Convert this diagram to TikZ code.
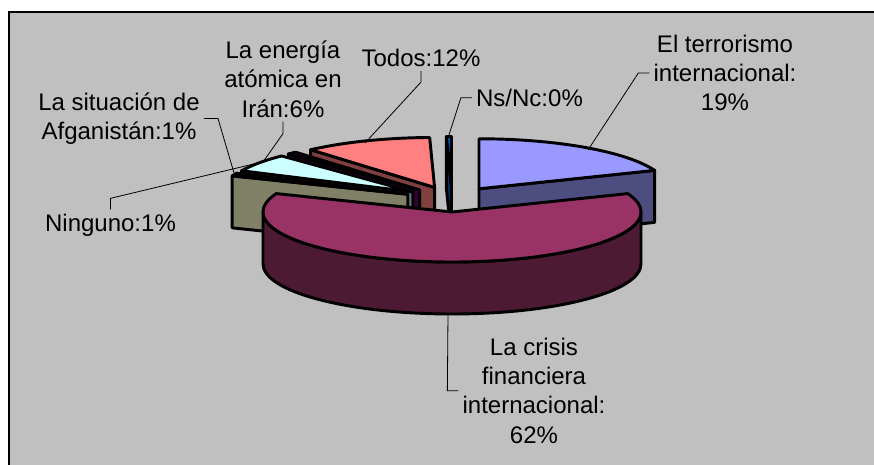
\documentclass[tikz,border=0pt]{standalone}
\usepackage{fontspec}
\setmainfont{Liberation Sans}
\usepackage{xcolor}
\usetikzlibrary{calc}

\definecolor{fondo}{HTML}{C0C0C0}
\definecolor{terArriba}{HTML}{9999FF}
\definecolor{terLado}{HTML}{4D4D80}
\definecolor{criArriba}{HTML}{993366}
\definecolor{criLado}{HTML}{4D1A33}
\definecolor{ninArriba}{HTML}{FFFFCC}
\definecolor{ninLado}{HTML}{808066}
\definecolor{iraArriba}{HTML}{CCFFFF}
\definecolor{iraLado}{HTML}{668080}
\definecolor{afgArriba}{HTML}{660066}
\definecolor{afgLado}{HTML}{330033}
\definecolor{todArriba}{HTML}{FF8080}
\definecolor{todLado}{HTML}{804040}
\definecolor{nsnArriba}{HTML}{0066CC}
\definecolor{nsnLado}{HTML}{003366}

\begin{document}
\begin{tikzpicture}[x=0.75pt, y=0.75pt,
  cara/.style={draw=black, line width=2.2pt, line join=round},
  borde/.style={x radius=189, y radius=50},
  guia/.style={draw=black, line width=0.6pt},
  etiqueta/.style={align=center, inner sep=3pt, font=\fontsize{18}{22}\selectfont}]
\useasboundingbox (0,0) rectangle (874,464);
% Fondo
\filldraw[fill=fondo, draw=black, line width=1.5pt] (9,452) rectangle (890,-20);

% Centros de las porciones
\coordinate (c) at (452,264.7);
\coordinate (ter) at ($(c)+(55.8:48 and 12.7)$);
\coordinate (cri) at ($(c)+(270:48 and 12.7)$);
\coordinate (nin) at ($(c)+(156.7:48 and 12.7)$);
\coordinate (ira) at ($(c)+(144.5:48 and 12.7)$);
\coordinate (afg) at ($(c)+(132.5:48 and 12.7)$);
\coordinate (tod) at ($(c)+(111.25:48 and 12.7)$);
\coordinate (nsn) at ($(c)+(90.75:48 and 12.7)$);

% Porciones (de atras hacia adelante)
\filldraw[cara, fill=nsnLado] (nsn) -- ++(91.5:189 and 50) -- ++(0,-52) -- ($(nsn)+(0,-52)$) -- cycle;
\filldraw[cara, fill=nsnArriba] (nsn) -- ++(91.5:189 and 50) arc[borde, start angle=91.5, end angle=90] -- cycle;
\filldraw[cara, fill=todLado] (tod) -- ++(131:189 and 50) -- ++(0,-52) -- ($(tod)+(0,-52)$) -- cycle;
\filldraw[cara, fill=todArriba] (tod) -- ++(131:189 and 50) arc[borde, start angle=131, end angle=91.5] -- cycle;
\filldraw[cara, fill=afgLado] (afg) -- ++(134:189 and 50) -- ++(0,-52) -- ($(afg)+(0,-52)$) -- cycle;
\filldraw[cara, fill=afgArriba] (afg) -- ++(134:189 and 50) arc[borde, start angle=134, end angle=131] -- cycle;
\filldraw[cara, fill=iraLado] (ira) -- ++(155:189 and 50) -- ++(0,-52) -- ($(ira)+(0,-52)$) -- cycle;
\filldraw[cara, fill=iraArriba] (ira) -- ++(155:189 and 50) arc[borde, start angle=155, end angle=134] -- cycle;
\filldraw[cara, fill=ninLado] (nin) -- ++(158.4:189 and 50) -- ++(0,-52) -- ($(nin)+(0,-52)$) -- cycle;
\filldraw[cara, fill=ninArriba] (nin) -- ++(158.4:189 and 50) arc[borde, start angle=158.4, end angle=155] -- cycle;
\filldraw[cara, fill=terLado] (ter) -- ++(21.6:189 and 50) -- ++(0,-52) -- ($(ter)+(0,-52)$) -- cycle;
\filldraw[cara, fill=terArriba] (ter) -- ++(90:189 and 50) arc[borde, start angle=90, end angle=21.6] -- cycle;
\filldraw[cara, fill=criLado] ($(cri)+(180:189 and 50)$) arc[borde, start angle=180, end angle=360] -- ++(0,-52) arc[borde, start angle=360, end angle=180] -- cycle;
\filldraw[cara, fill=criArriba] (cri) -- ++(21.6:189 and 50) arc[borde, start angle=21.6, end angle=-201.6] -- cycle;

% Etiquetas
\node[etiqueta] (terlbl) at (725,391) {El terrorismo\\internacional:\\19\%};
\node[etiqueta] (crilbl) at (534,73.3) {La crisis\\financiera\\internacional:\\62\%};
\node[etiqueta] (nsnlbl) at (529.5,366.2) {Ns/Nc:0\%};
\node[etiqueta] (todlbl) at (421,406) {Todos:12\%};
\node[etiqueta] (iralbl) at (283,384.9) {La energía\\atómica en\\Irán:6\%};
\node[etiqueta] (afglbl) at (119,345.5) {La situación de\\Afganistán:1\%};
\node[etiqueta] (ninlbl) at (110.5,239.2) {Ninguno:1\%};

% Lineas guia
\coordinate (terend) at (588,314);
\coordinate (criend) at (448,151);
\coordinate (nsnend) at (448,326);
\coordinate (todend) at (365,321);
\coordinate (iraend) at (263,302);
\coordinate (afgend) at (234,291);
\coordinate (ninend) at (262,302);
\draw[guia] (terlbl.west) -- ++(-11,0) -- (terend);
\draw[guia] (crilbl.west) -- ++(-11,0) -- (criend);
\draw[guia] (nsnlbl.west) -- ++(-11,0) -- (nsnend);
\draw[guia] (todlbl.south) -- ++(0,-11) -- (todend);
\draw[guia] (iralbl.south) -- ++(0,-12) -- (iraend);
\draw[guia] (afglbl.east) -- ++(14,0) -- (afgend);
\draw[guia] (ninlbl.north) -- ++(0,11) -- (ninend);
\end{tikzpicture}
\end{document}
